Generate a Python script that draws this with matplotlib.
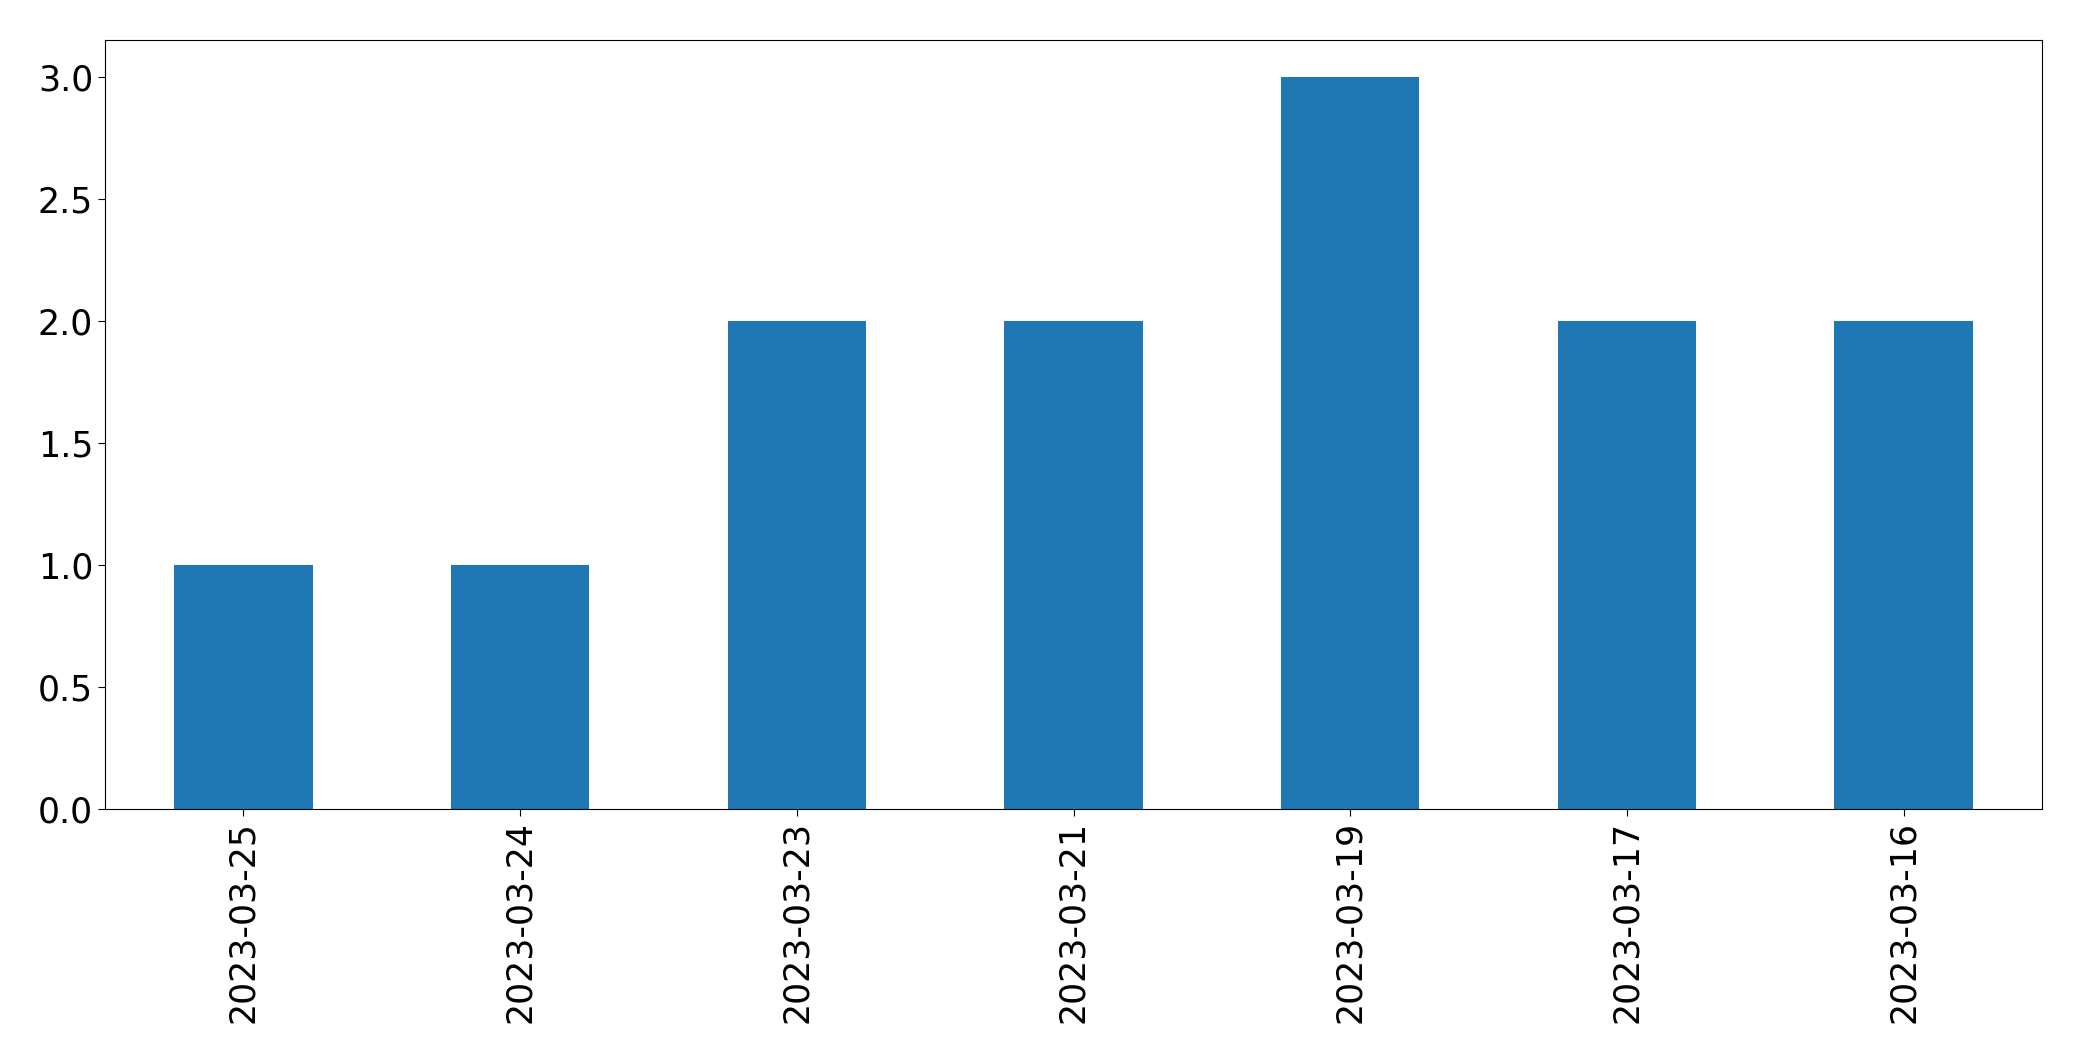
import matplotlib
matplotlib.use('Agg')
import matplotlib.pyplot as plt
import numpy as np

dates = ['2023-03-25', '2023-03-24', '2023-03-23', '2023-03-21',
         '2023-03-19', '2023-03-17', '2023-03-16']
counts = [1, 1, 2, 2, 3, 2, 2]

fig = plt.figure(figsize=(20.82, 10.61), dpi=100)
ax = fig.add_axes([105 / 2082, 1 - 809 / 1061, (2042 - 105) / 2082, (809 - 40) / 1061])

x = np.arange(len(dates))
ax.bar(x, counts, 0.5, color='#1f77b4')
ax.set_xlim(-0.5, len(dates) - 0.5)
ax.set_xticks(x)
ax.set_xticklabels(dates, rotation=90, fontsize=25)
ax.tick_params(axis='y', labelsize=25)
ax.tick_params(axis='both', length=5)

fig.savefig('out.png', dpi=100)
